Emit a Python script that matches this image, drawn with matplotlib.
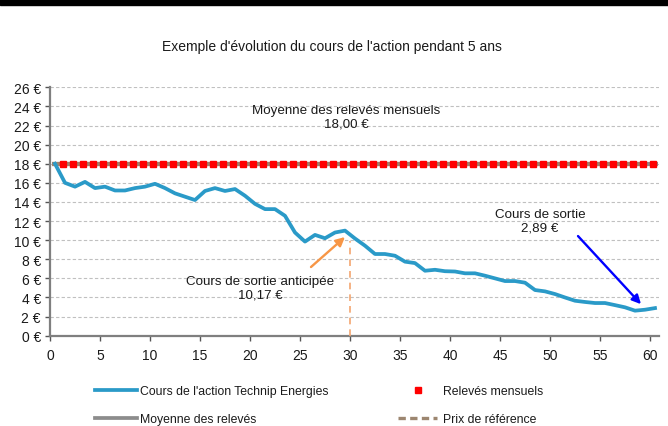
import matplotlib
matplotlib.use("Agg")
import matplotlib.pyplot as plt
from matplotlib.lines import Line2D
from matplotlib.patches import Rectangle

plt.rcParams['font.family'] = ['Liberation Sans', 'DejaVu Sans']

# ---------------- data ----------------
title = "Exemple d'évolution du cours de l'action pendant 5 ans"
months = list(range(61))
cours = [18.0, 16.0, 15.6, 16.1, 15.45, 15.6, 15.2, 15.2, 15.45, 15.6, 15.9,
         15.45, 14.9, 14.55, 14.2, 15.15, 15.45, 15.15, 15.35, 14.65, 13.8,
         13.25, 13.25, 12.55, 10.8, 9.85, 10.55, 10.2, 10.8, 11.0, 10.17,
         9.42, 8.55, 8.55, 8.37, 7.75, 7.6, 6.8, 6.9, 6.75, 6.72,
         6.53, 6.53, 6.28, 6.0, 5.72, 5.72, 5.55, 4.78, 4.64, 4.36,
         4.0, 3.66, 3.53, 3.42, 3.42, 3.2, 2.97, 2.62, 2.72, 2.89]
releve_months = list(range(1, 61))
releves = [18.0] * 60
moyenne = 18.0
prix_reference = 18.0
sortie_anticipee_month = 30
sortie_anticipee_val = 10.17
sortie_val = 2.89
yticks = list(range(0, 27, 2))
xticks = list(range(0, 61, 5))
labels = ["Cours de l'action Technip Energies", "Moyenne des relevés",
          "Relevés mensuels", "Prix de référence"]

# ---------------- style ----------------
BLUE = '#2A9AC8'
RED = '#FF0000'
GREY = '#8C8C8C'
BROWN = '#9C8670'
ORANGE = '#F79646'
TXT = '#1a1a1a'
FS = 9.6
FS_TICK = 10
FS_LEG = 8.8

W, H = 668, 427
fig = plt.figure(figsize=(W / 100, H / 100), dpi=100)
ax = fig.add_axes([50 / W, 1 - 336.7 / H, 609 / W, 248.4 / H])

# top black band
fig.patches.append(Rectangle((0, 1 - 6 / H), 1, 6 / H, transform=fig.transFigure,
                             color='black', zorder=10))

shift = 0.5
ax.hlines(moyenne, months[0] + 0.2, months[-1] + 0.8, color=GREY, lw=3.0, zorder=2)
ax.hlines(prix_reference, months[0] + 0.2, months[-1] - 0.5, color=BROWN, lw=3.0, zorder=3)
ax.plot([m + 0.33 for m in releve_months], releves, ls='none', marker='s',
        ms=4.0, color=RED, mec=RED, zorder=4)
ax.plot([m + shift for m in months], cours, color=BLUE, lw=2.7, zorder=5,
        solid_joinstyle='round')

# vertical dashed line at early exit
ax.vlines(sortie_anticipee_month, 0, 9.95, color='#F4A670', lw=1.2,
          linestyles=(0, (4, 3)), zorder=3)

# annotations
ax.annotate('', xy=(29.5, 10.33), xytext=(26.1, 7.19),
            arrowprops=dict(arrowstyle='-|>', color=ORANGE, lw=1.7,
                            mutation_scale=13, shrinkA=0, shrinkB=0), zorder=6)
ax.annotate('', xy=(59.1, 3.3), xytext=(52.8, 10.43),
            arrowprops=dict(arrowstyle='-|>', color='#0000FF', lw=1.7,
                            mutation_scale=13, shrinkA=0, shrinkB=0), zorder=6)

ax.text(29.6, 22.9, "Moyenne des relevés mensuels\n%s €" % f"{moyenne:.2f}".replace('.', ','),
        ha='center', va='center', fontsize=FS, color=TXT, linespacing=1.2)
ax.text(21.0, 5.05, "Cours de sortie anticipée\n%s €" % f"{sortie_anticipee_val:.2f}".replace('.', ','),
        ha='center', va='center', fontsize=FS, color=TXT, linespacing=1.2)
ax.text(49.0, 12.0, "Cours de sortie\n%s €" % f"{sortie_val:.2f}".replace('.', ','),
        ha='center', va='center', fontsize=FS, color=TXT, linespacing=1.2)

# axes
ax.set_xlim(0, 60.9)
ax.set_ylim(0, 26)
ax.set_yticks(yticks)
ax.set_yticklabels([f"{v} €" for v in yticks])
ax.set_xticks(xticks)
ax.set_xticklabels([str(v) for v in xticks])
ax.tick_params(axis='both', labelsize=FS_TICK, colors='#555555', labelcolor=TXT,
               length=3.5, width=1.0, direction='out')
ax.tick_params(axis='y', pad=3)
ax.tick_params(axis='x', pad=5)
ax.grid(axis='y', color='#C0C0C0', lw=0.8, ls=(0, (3, 2)))
ax.set_axisbelow(True)
for s in ['top', 'right']:
    ax.spines[s].set_visible(False)
for s in ['left', 'bottom']:
    ax.spines[s].set_color('#7F7F7F')
    ax.spines[s].set_linewidth(1.6)

fig.text(332 / W, 1 - 47 / H, title, ha='center', va='center', fontsize=FS + 0.4, color=TXT)

# legends (two columns, placed separately)
h_blue = Line2D([], [], color=BLUE, lw=2.7)
h_grey = Line2D([], [], color=GREY, lw=2.7)
h_red = Line2D([], [], color=RED, ls='none', marker='s', ms=4.0)
h_brown = Line2D([], [], color=BROWN, lw=2.4, ls=(0, (2.2, 1.3)))

common = dict(frameon=False, fontsize=FS_LEG, handlelength=3.4, handletextpad=0.25,
              labelspacing=1.3, borderaxespad=0, borderpad=0,
              bbox_transform=fig.transFigure)
leg1 = fig.legend([h_blue, h_grey], labels[:2], loc='upper left',
                  bbox_to_anchor=(95 / W, 1 - 386 / H), **common)
leg2 = fig.legend([h_red, h_brown], labels[2:], loc='upper left',
                  bbox_to_anchor=(398 / W, 1 - 386 / H), numpoints=1,
                  **{**common, 'handlelength': 3.2, 'handletextpad': 0.5})
for lg in (leg1, leg2):
    for t in lg.get_texts():
        t.set_color(TXT)

fig.savefig('out.png', dpi=100)
